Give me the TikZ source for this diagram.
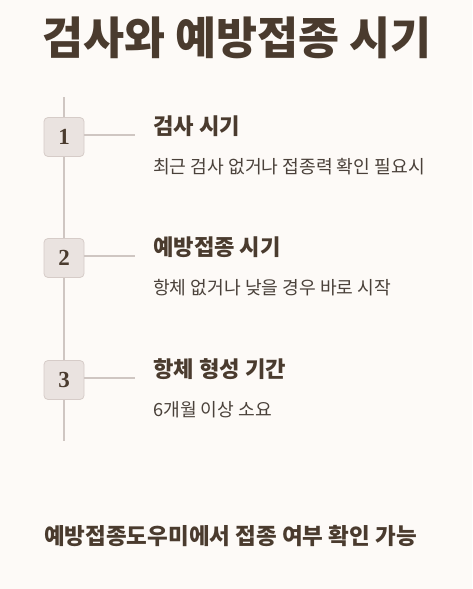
\documentclass[tikz,border=0pt]{standalone}
\usepackage{fontspec}
\setmainfont{Noto Sans CJK KR}
\newfontfamily\numfont{Liberation Serif}
\definecolor{bg}{HTML}{FDFAF7}
\definecolor{ink}{HTML}{4A3B2E}
\definecolor{subink}{HTML}{4A413A}
\definecolor{linec}{HTML}{CFC6C2}
\definecolor{boxfill}{HTML}{EAE3E0}
\definecolor{boxdraw}{HTML}{D6CCC8}
\begin{document}
\begin{tikzpicture}[x=1pt,y=-1pt,
  numbox/.style={draw=boxdraw,fill=boxfill,rounded corners=4pt,minimum width=40pt,minimum height=39pt,inner sep=0pt,line width=0.8pt,font=\numfont\bfseries\fontsize{23}{23}\selectfont,text=ink},
  steptitle/.style={anchor=west,inner sep=0pt,font=\bfseries\fontsize{22.2}{23}\selectfont,text=ink},
  stepsub/.style={anchor=west,inner sep=0pt,font=\fontsize{18.2}{19}\selectfont,text=subink},
  conn/.style={draw=linec,line width=1.3pt}]
\fill[bg] (0,0) rectangle (472,589);
\useasboundingbox (0,0) rectangle (472,589);
\node[inner sep=0pt,font=\bfseries\fontsize{44.6}{45}\selectfont,text=ink] (title) at (237,38) {검사와 예방접종 시기};
\coordinate (top) at (64,97);
\coordinate (bot) at (64,441);
\draw[conn] (top) -- (bot);
\foreach \i/\y/\t/\s in {1/137/검사 시기/최근 검사 없거나 접종력 확인 필요시,2/258/예방접종 시기/항체 없거나 낮을 경우 바로 시작,3/380/항체 형성 기간/6개월 이상 소요}{
  \node[numbox] (b\i) at (64,\y) {\textbf{\i}};
  \coordinate (e\i) at (135,\y-2);
  \draw[conn] (b\i.east |- e\i) -- (e\i);
  \node[steptitle] (t\i) at (153,\y-11) {\t};
  \node[stepsub] (s\i) at (153,\y+30) {\s};
}
\node[inner sep=0pt,anchor=west,font=\bfseries\fontsize{22.5}{23}\selectfont,text=ink] (note) at (44,536) {예방접종도우미에서 접종 여부 확인 가능};
\end{tikzpicture}
\end{document}
